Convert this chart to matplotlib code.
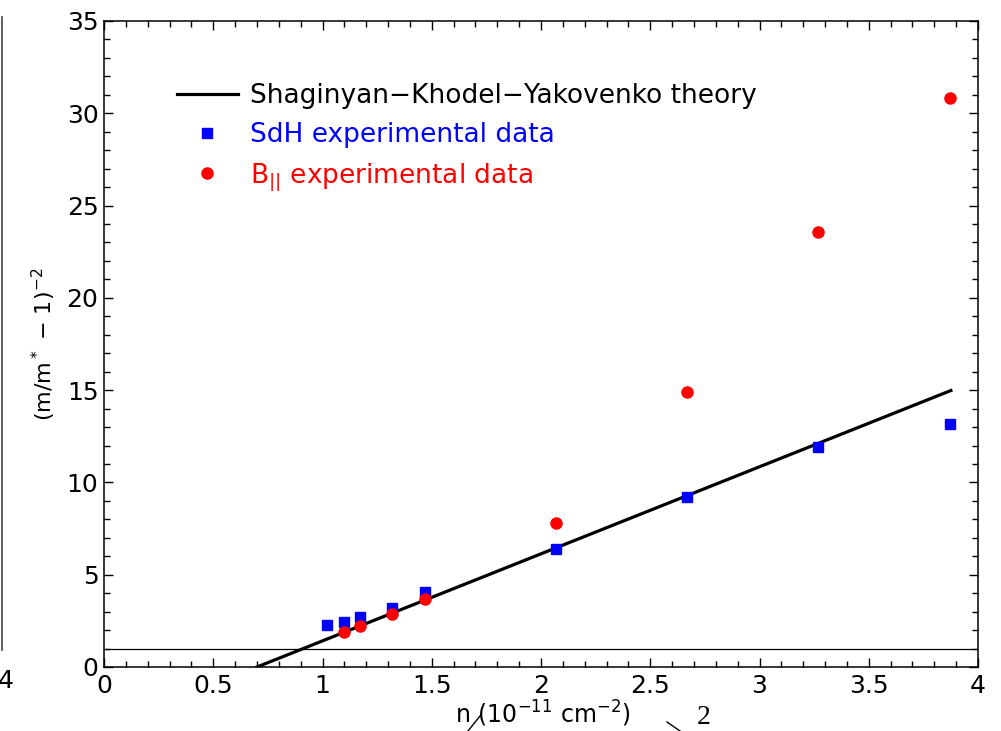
import matplotlib
matplotlib.use("Agg")
import matplotlib.pyplot as plt
from matplotlib.ticker import MultipleLocator, FuncFormatter
from matplotlib.lines import Line2D

plt.rcParams['font.family'] = ['DejaVu Sans']
plt.rcParams['mathtext.fontset'] = 'dejavusans'

# Carrier density n (10^-11 cm^-2)
sdh_n = [1.02, 1.10, 1.17, 1.32, 1.47, 2.07, 2.67, 3.27, 3.87]
sdh_val = [2.28, 2.46, 2.70, 3.22, 4.05, 6.39, 9.22, 11.92, 13.17]

bpar_n = [1.10, 1.17, 1.32, 1.47, 2.07, 2.67, 3.27, 3.87]
bpar_val = [1.92, 2.24, 2.86, 3.69, 7.80, 14.92, 23.57, 30.82]

theory_n = [0.70, 3.876]
theory_val = [0.0, 14.98]

ref_level = 1.0

x_limits = (0, 4)
y_limits = (0, 35)

W, H = 1001, 731
fig = plt.figure(figsize=(W / 100, H / 100), dpi=100)
ax = fig.add_axes([104 / W, (H - 667) / H, (978 - 104) / W, (667 - 21) / H])

ax.axhline(ref_level, color='black', lw=0.9, zorder=1)
ax.plot(theory_n, theory_val, color='black', lw=2.3, zorder=2,
        label='Shaginyan\u2212Khodel\u2212Yakovenko theory')
ax.plot(sdh_n, sdh_val, ls='none', marker='s', ms=7.5, color='#0000ff',
        mec='#0000ff', zorder=3, label='SdH experimental data')
ax.plot(bpar_n, bpar_val, ls='none', marker='o', ms=8, color='#ff0000',
        mec='#ff0000', zorder=4, label=r'B$_{||}$ experimental data')

ax.set_xlim(*x_limits)
ax.set_ylim(*y_limits)
ax.xaxis.set_major_locator(MultipleLocator(0.5))
ax.xaxis.set_minor_locator(MultipleLocator(0.1))
ax.yaxis.set_major_locator(MultipleLocator(5))
ax.yaxis.set_minor_locator(MultipleLocator(1))
ax.xaxis.set_major_formatter(FuncFormatter(lambda v, p: f"{v:g}"))
ax.yaxis.set_major_formatter(FuncFormatter(lambda v, p: f"{v:g}"))

ax.tick_params(which='both', direction='in', top=True, right=True,
               width=1.0, color='black')
ax.tick_params(which='major', length=6.5, labelsize=18, pad=5)
ax.tick_params(which='minor', length=4.2)
ax.tick_params(axis='y', which='major', pad=4)
for s in ax.spines.values():
    s.set_linewidth(1.1)

ax.set_ylabel(r'(m/m$^*$ $-$ 1)$^{-2}$', fontsize=16)
ax.yaxis.set_label_coords(-0.053, 0.5)
ax.set_xlabel(r'n (10$^{-11}$ cm$^{-2}$)', fontsize=17)
ax.xaxis.set_label_coords(0.502, -0.049)

leg = ax.legend(loc='upper left', bbox_to_anchor=((177 - 104) / 874, (667 - 83) / 646),
                frameon=False, fontsize=19, handlelength=2.3, handletextpad=0.45,
                borderpad=0, borderaxespad=0, labelspacing=0.5,
                labelcolor='linecolor', numpoints=1)

# neighbouring material at the page edges
fig.add_artist(Line2D([1.5 / W, 1.5 / W], [1 - 17 / H, 1 - 650 / H],
                      color='#444444', lw=1.2, transform=fig.transFigure))
fig.text(6 / W, 1 - 681 / H, '4', fontsize=18, ha='center', va='center')
fig.text(704 / W, 1 - 730 / H, '2', fontsize=20, family='Liberation Serif',
         ha='center', va='bottom')
fig.add_artist(Line2D([468 / W, 480 / W], [1 - 731 / H, 1 - 716 / H],
                      color='black', lw=1.0, transform=fig.transFigure))
fig.add_artist(Line2D([667 / W, 680 / W], [1 - 722 / H, 1 - 731 / H],
                      color='black', lw=1.0, transform=fig.transFigure))

fig.savefig('out.png', dpi=100)
